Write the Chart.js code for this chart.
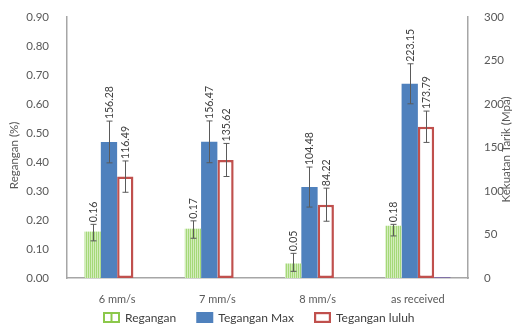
<!DOCTYPE html>
<html><head><meta charset="utf-8">
<script src="https://cdn.jsdelivr.net/npm/chart.js@4/dist/chart.umd.min.js"></script>
<style>html,body{margin:0;padding:0;background:#fff}</style>
</head><body>
<canvas id="c" width="516" height="328" style="width:516px;height:328px;display:block"></canvas>
<script>
// ---- data ----
const categories = ['6 mm/s', '7 mm/s', '8 mm/s', 'as received'];
const regangan = [0.16, 0.17, 0.05, 0.18];
const teganganMax = [156.28, 156.47, 104.48, 223.15];
const teganganLuluh = [116.49, 135.62, 84.22, 173.79];
const extraSeries = [0, 0, 0, 1];
const reganganErrUp = [0.025, 0.027, 0.035, 0.005];
const reganganErrDown = [0.032, 0.033, 0.027, 0.035];
const teganganMaxErr = [24, 24, 23, 23];
const teganganLuluhErr = [18, 19, 19, 18];
const leftAxisMax = 0.9, leftAxisStep = 0.1;
const rightAxisMax = 300, rightAxisStep = 50;
const seriesNames = ['Regangan', 'Tegangan Max', 'Tegangan luluh'];
const leftTitle = 'Regangan (%)';
const rightTitle = 'Kekuatan Tarik (Mpa)';

const FONT = 'Lato, "Liberation Sans", sans-serif';

// green striped pattern
function makePattern() {
  const p = document.createElement('canvas');
  p.width = 2; p.height = 4;
  const g = p.getContext('2d');
  g.fillStyle = '#d3edbd'; g.fillRect(0, 0, 2, 4);
  g.fillStyle = '#a5d878'; g.fillRect(0, 0, 1, 4);
  return document.getElementById('c').getContext('2d').createPattern(p, 'repeat');
}
const greenPattern = makePattern();

function drawIcon(g, kind, x, y) {
  if (kind === 0) {
    g.fillStyle = '#fff'; g.fillRect(x, y, 17, 11);
    g.strokeStyle = '#8cc84b'; g.lineWidth = 2;
    g.strokeRect(x + 1, y + 1, 15, 9);
    g.beginPath(); g.moveTo(x + 8.5, y + 1); g.lineTo(x + 8.5, y + 10); g.stroke();
  } else if (kind === 1) {
    g.fillStyle = '#4f81bd'; g.fillRect(x, y, 17, 11);
  } else {
    g.fillStyle = '#fff'; g.fillRect(x, y, 17, 11);
    g.strokeStyle = '#c0504d'; g.lineWidth = 2.2;
    g.strokeRect(x + 1.1, y + 1.1, 14.8, 8.8);
  }
}

const errorSets = [
  { up: reganganErrUp, down: reganganErrDown },
  { up: teganganMaxErr, down: teganganMaxErr },
  { up: teganganLuluhErr, down: teganganLuluhErr }
];

const errorPlugin = {
  id: 'errbars',
  afterDatasetsDraw(chart) {
    const ctx = chart.ctx;
    ctx.save();
    for (let d = 0; d < 3; d++) {
      const ds = chart.data.datasets[d];
      const meta = chart.getDatasetMeta(d);
      const scale = chart.scales[ds.yAxisID];
      meta.data.forEach((el, i) => {
        const v = ds.data[i];
        const yHi = scale.getPixelForValue(v + errorSets[d].up[i]);
        const yLo = scale.getPixelForValue(v - errorSets[d].down[i]);
        const x = Math.round(el.x) + 0.5;
        ctx.strokeStyle = '#5a5a5a';
        ctx.lineWidth = 1;
        ctx.beginPath();
        ctx.moveTo(x, yHi); ctx.lineTo(x, yLo);
        ctx.moveTo(x - 3, yHi); ctx.lineTo(x + 3, yHi);
        ctx.moveTo(x - 3, yLo); ctx.lineTo(x + 3, yLo);
        ctx.stroke();
        ctx.save();
        ctx.translate(x, yHi - 2);
        ctx.rotate(-Math.PI / 2);
        ctx.fillStyle = '#404040';
        ctx.font = '10.5px ' + FONT;
        ctx.textAlign = 'left';
        ctx.textBaseline = 'middle';
        ctx.fillText(v.toFixed(2), 0, 0);
        ctx.restore();
      });
    }
    ctx.restore();
  },
  afterDraw(chart) {
    const ctx = chart.ctx;
    const ca = chart.chartArea;
    const midY = (ca.top + ca.bottom) / 2;
    ctx.save();
    ctx.fillStyle = '#595959';
    ctx.font = '11.5px ' + FONT;
    ctx.textAlign = 'center';
    ctx.textBaseline = 'middle';
    // axis titles (both read bottom-to-top)
    ctx.save(); ctx.translate(14, midY + 8); ctx.rotate(-Math.PI / 2); ctx.fillText(leftTitle, 0, 0); ctx.restore();
    ctx.save(); ctx.translate(506, midY + 2); ctx.rotate(-Math.PI / 2); ctx.fillText(rightTitle, 0, 0); ctx.restore();
    // legend
    ctx.font = '12px ' + FONT;
    ctx.textAlign = 'left';
    let x = 103;
    const yC = 318;
    seriesNames.forEach((n, i) => {
      drawIcon(ctx, i, x, yC - 6);
      ctx.fillStyle = '#404040';
      ctx.fillText(n, x + 22, yC);
      x += 22 + ctx.measureText(n).width + 20;
    });
    ctx.restore();
  }
};

new Chart(document.getElementById('c'), {
  type: 'bar',
  data: {
    labels: categories,
    datasets: [
      { label: seriesNames[0], data: regangan, yAxisID: 'y', backgroundColor: greenPattern, borderWidth: 0 },
      { label: seriesNames[1], data: teganganMax, yAxisID: 'y1', backgroundColor: '#4f81bd', borderWidth: 0 },
      { label: seriesNames[2], data: teganganLuluh, yAxisID: 'y1', backgroundColor: '#ffffff', borderColor: '#c0504d', borderWidth: 2.5, borderSkipped: false },
      { label: 'extra', data: extraSeries, yAxisID: 'y1', backgroundColor: '#7b68a6', borderWidth: 0 }
    ]
  },
  options: {
    responsive: false,
    animation: false,
    events: [],
    layout: { padding: { top: 4, left: 0, right: 0, bottom: 22 } },
    datasets: { bar: { categoryPercentage: 0.65, barPercentage: 1.0 } },
    scales: {
      x: {
        grid: { display: false },
        border: { display: true, color: '#a6a6a6', width: 1.5 },
        ticks: { color: '#595959', font: { family: FONT, size: 11 }, padding: 7 },
        afterFit(s) { s.height = 28; }
      },
      y: {
        position: 'left',
        min: 0, max: leftAxisMax,
        grid: { display: false },
        border: { display: true, color: '#a6a6a6', width: 1.5 },
        ticks: { stepSize: leftAxisStep, color: '#595959', font: { family: FONT, size: 11.5 }, padding: 10,
          callback: v => Number(v).toFixed(2) },
        afterFit(s) { s.width = 67; }
      },
      y1: {
        position: 'right',
        min: 0, max: rightAxisMax,
        grid: { display: false },
        border: { display: true, color: '#a6a6a6', width: 1.5 },
        ticks: { stepSize: rightAxisStep, color: '#595959', font: { family: FONT, size: 11.5 }, padding: 8 },
        afterFit(s) { s.width = 48; }
      }
    },
    plugins: {
      tooltip: { enabled: false },
      legend: { display: false }
    }
  },
  plugins: [errorPlugin]
});
</script>
</body></html>
